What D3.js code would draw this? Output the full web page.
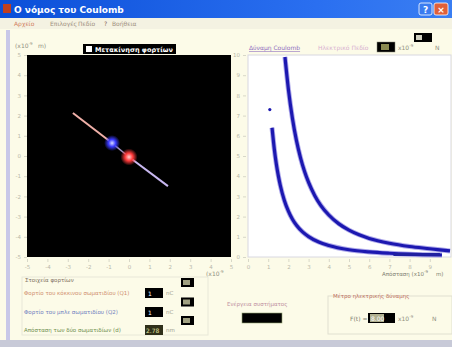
<!DOCTYPE html>
<html><head><meta charset="utf-8">
<script src="https://cdn.jsdelivr.net/npm/d3@7"></script>
<style>body{margin:0;background:#fcfbe8;overflow:hidden}svg{display:block}text{font-family:"DejaVu Sans",sans-serif}</style>
</head><body><svg id="c" width="452" height="347"></svg>
<script>
// ---- data ----
const titleText = "Ο νόμος του Coulomb";
const menuItems = ["Αρχείο", "Επιλογές", "Πεδίο", "?", "Βοήθεια"];
const axisTicks = [-5,-4,-3,-2,-1,0,1,2,3,4,5];
const plotXTicks = [0,1,2,3,4,5,6,7,8,9];
const plotYTicks = [0,1,2,3,4,5,6,7,8,9,10];
// particle positions (x10^-9 m) in the left panel
const blueCharge = {x:-0.83, y:0.64};
const redCharge = {x:0.0, y:-0.05};
// force vectors: [start, end]
const vecBlue = [{x:-0.83,y:0.64},{x:-2.75,y:2.13}];
const vecRed = [{x:0.0,y:-0.05},{x:1.91,y:-1.49}];
// force vs distance curves (distance, force)
const upperR = [1.83,2.0,2.2,2.4,2.6,2.8,3.0,3.3,3.6,4.0,4.5,5.0,5.5,6.0,7.0,8.0,9.0,10.0];
const upperF = [9.9,8.3,6.86,5.76,4.91,4.23,3.69,3.05,2.56,2.08,1.64,1.33,1.10,0.92,0.68,0.52,0.41,0.30];
const lowerR = [1.19,1.3,1.4,1.5,1.6,1.8,2.0,2.2,2.4,2.7,3.0,3.5,4.0,5.0,6.0,7.0,8.0,9.6];
const lowerF = [6.4,5.36,4.62,4.03,3.54,2.80,2.27,1.87,1.57,1.24,1.01,0.74,0.57,0.36,0.25,0.185,0.14,0.10];
const strayPoint = {r:1.08, f:7.3};
const q1 = "1", q2 = "1", dist = "2.78", forceVal = "8.00";

const svg = d3.select("#c");
const defs = svg.append("defs");
const tg = defs.append("linearGradient").attr("id","tb").attr("x1",0).attr("x2",1);
tg.append("stop").attr("offset","0").attr("stop-color","#0b4fd8");
tg.append("stop").attr("offset","0.7").attr("stop-color","#2a6ff0");
tg.append("stop").attr("offset","1").attr("stop-color","#3a7ef2");
function glow(id, c0, c1){
  const g = defs.append("radialGradient").attr("id",id);
  g.append("stop").attr("offset","0").attr("stop-color",c0);
  g.append("stop").attr("offset","0.45").attr("stop-color",c1);
  g.append("stop").attr("offset","1").attr("stop-color",c1).attr("stop-opacity",0);
}
glow("gb","#d8dcff","#3a3aff");
glow("gr","#ffd0d0","#ff3a3a");

// window chrome
svg.append("rect").attr("x",0).attr("y",0).attr("width",452).attr("height",347).attr("fill","#fcfbe8");
svg.append("rect").attr("x",0).attr("y",0).attr("width",452).attr("height",18).attr("fill","url(#tb)");
svg.append("rect").attr("x",3).attr("y",4).attr("width",8).attr("height",9).attr("fill","#c04020");
svg.append("text").attr("x",14).attr("y",13).attr("fill","#fff").attr("font-size",9).attr("font-weight","bold").text(titleText);
svg.append("rect").attr("x",419).attr("y",3).attr("width",13).attr("height",12).attr("fill","#3b7cf0").attr("stroke","#fff").attr("stroke-width",0.8).attr("rx",2);
svg.append("text").attr("x",425.5).attr("y",13).attr("text-anchor","middle").attr("fill","#fff").attr("font-size",9).attr("font-weight","bold").text("?");
svg.append("rect").attr("x",434).attr("y",3).attr("width",14).attr("height",12).attr("fill","#e0603a").attr("stroke","#fff").attr("stroke-width",0.8).attr("rx",2);
svg.append("text").attr("x",441).attr("y",13).attr("text-anchor","middle").attr("fill","#fff").attr("font-size",9).attr("font-weight","bold").text("×");
svg.append("rect").attr("x",0).attr("y",18).attr("width",452).attr("height",11).attr("fill","#f4f2e2");
const menuX = [14,50,78,104,112];
const menuCol = ["#d08060","#a09080","#a09080","#806050","#a09080"];
menuItems.forEach((m,i)=>svg.append("text").attr("x",menuX[i]).attr("y",26).attr("font-size",6).attr("fill",menuCol[i]).text(m));
svg.append("rect").attr("x",6).attr("y",30).attr("width",4).attr("height",312).attr("fill","#c8c8e8");
svg.append("rect").attr("x",0).attr("y",340).attr("width",452).attr("height",7).attr("fill","#c8cad8");

// left panel
const lx = d3.scaleLinear().domain([-5,5]).range([27,231]);
const ly = d3.scaleLinear().domain([-5,5]).range([257,55]);
svg.append("rect").attr("x",27).attr("y",55).attr("width",204).attr("height",202).attr("fill","#000");
const axL = svg.append("g").attr("transform","translate(27,0)").call(d3.axisLeft(ly).tickValues(axisTicks).tickSize(3).tickFormat(d=>d));
const axB = svg.append("g").attr("transform","translate(0,259)").call(d3.axisBottom(lx).tickValues(axisTicks).tickSize(3).tickFormat(d=>d));
[axL,axB].forEach(a=>{a.select(".domain").remove();a.selectAll("line").attr("stroke","#d8d8c8");a.selectAll("text").attr("fill","#b8b8a8").attr("font-size",5.5);});
svg.append("text").attr("x",15).attr("y",48).attr("font-size",6).attr("fill","#909080").text("(x10").append("tspan").attr("dy",-3).attr("font-size",4).text("-9");
svg.append("text").attr("x",38).attr("y",48).attr("font-size",6).attr("fill","#909080").text("m)");
svg.append("text").attr("x",206).attr("y",276).attr("font-size",6).attr("fill","#909080").text("(x10").append("tspan").attr("dy",-3).attr("font-size",4).text("-9");
// checkbox label
svg.append("rect").attr("x",83).attr("y",44).attr("width",93).attr("height",10).attr("fill","#000");
svg.append("rect").attr("x",86).attr("y",46).attr("width",6).attr("height",6).attr("fill","#fff");
svg.append("text").attr("x",95).attr("y",52).attr("font-size",6.5).attr("font-weight","bold").attr("fill","#fff").text("Μετακίνηση φορτίων");
// vectors
svg.append("line").attr("x1",lx(vecBlue[0].x)).attr("y1",ly(vecBlue[0].y)).attr("x2",lx(vecBlue[1].x)).attr("y2",ly(vecBlue[1].y)).attr("stroke","#f0b0a8").attr("stroke-width",2);
svg.append("line").attr("x1",lx(vecRed[0].x)).attr("y1",ly(vecRed[0].y)).attr("x2",lx(vecRed[1].x)).attr("y2",ly(vecRed[1].y)).attr("stroke","#c8b8f0").attr("stroke-width",2);
svg.append("line").attr("x1",lx(blueCharge.x)).attr("y1",ly(blueCharge.y)).attr("x2",lx(redCharge.x)).attr("y2",ly(redCharge.y)).attr("stroke","#a090c0").attr("stroke-width",1.5);
svg.append("circle").attr("cx",lx(blueCharge.x)).attr("cy",ly(blueCharge.y)).attr("r",8).attr("fill","url(#gb)");
svg.append("circle").attr("cx",lx(redCharge.x)).attr("cy",ly(redCharge.y)).attr("r",8.5).attr("fill","url(#gr)");

// right plot
const px = d3.scaleLinear().domain([0,10]).range([248,450]);
const py = d3.scaleLinear().domain([0,10]).range([257,55]);
svg.append("rect").attr("x",248).attr("y",55).attr("width",203).attr("height",202).attr("fill","#fff").attr("stroke","#d8d8e0");
const axPL = svg.append("g").attr("transform","translate(246,0)").call(d3.axisLeft(py).tickValues(plotYTicks).tickSize(3).tickFormat(d=>d));
const axPB = svg.append("g").attr("transform","translate(0,259)").call(d3.axisBottom(px).tickValues(plotXTicks).tickSize(3).tickFormat(d=>d));
[axPL,axPB].forEach(a=>{a.select(".domain").remove();a.selectAll("line").attr("stroke","#d8d8c8");a.selectAll("text").attr("fill","#b8b8a8").attr("font-size",5.5);});
svg.append("text").attr("x",382).attr("y",276).attr("font-size",5.5).attr("fill","#808070").text("Απόσταση (x10").append("tspan").attr("dy",-3).attr("font-size",4).text("-9");
svg.append("text").attr("x",436).attr("y",276).attr("font-size",5.5).attr("fill","#808070").text("m)");
// legend row
svg.append("text").attr("x",249).attr("y",50).attr("font-size",6).attr("fill","#9070c0").attr("text-decoration","underline").text("Δύναμη Coulomb");
svg.append("text").attr("x",318).attr("y",50).attr("font-size",6).attr("fill","#d8b0d0").text("Ηλεκτρικό Πεδίο");
svg.append("rect").attr("x",377).attr("y",42).attr("width",18).attr("height",10).attr("fill","#000").attr("stroke","#887").attr("stroke-width",0.5);
svg.append("rect").attr("x",381).attr("y",44).attr("width",8).attr("height",6).attr("fill","#8a8a50");
svg.append("text").attr("x",398).attr("y",50).attr("font-size",6).attr("fill","#909080").text("x10").append("tspan").attr("dy",-3).attr("font-size",4).text("-9");
svg.append("text").attr("x",435).attr("y",50).attr("font-size",6).attr("fill","#909080").text("N");
svg.append("rect").attr("x",414).attr("y",33).attr("width",18).attr("height",9).attr("fill","#000");
svg.append("rect").attr("x",416).attr("y",35).attr("width",6).attr("height",5).attr("fill","#d0d0c0");

const line = d3.line().x(d=>px(d[0])).y(d=>py(d[1])).curve(d3.curveMonotoneX);
const up = upperR.map((r,i)=>[r,upperF[i]]);
const lo = lowerR.map((r,i)=>[r,lowerF[i]]);
[up,lo].forEach(d=>{
  svg.append("path").datum(d).attr("d",line).attr("fill","none").attr("stroke","#6a60d8").attr("stroke-width",5).attr("stroke-opacity",0.55);
  svg.append("path").datum(d).attr("d",line).attr("fill","none").attr("stroke","#1c18b0").attr("stroke-width",3.2);
});
svg.append("circle").attr("cx",px(strayPoint.r)).attr("cy",py(strayPoint.f)).attr("r",1.6).attr("fill","#1c18b0");
svg.append("rect").attr("x",px(7.2)).attr("y",py(0.2)).attr("width",px(9.5)-px(7.2)).attr("height",3).attr("fill","#2020a0");

// bottom controls
svg.append("rect").attr("x",22).attr("y",277).attr("width",186).attr("height",58).attr("fill","none").attr("stroke","#e8e8d8");
svg.append("text").attr("x",25).attr("y",282).attr("font-size",5.5).attr("fill","#807060").text("Στοιχεία φορτίων");
const rows = [
  {t:"Φορτίο του κόκκινου σωματιδίου (Q1)", c:"#d09070", v:q1, y:293},
  {t:"Φορτίο του μπλε σωματιδίου (Q2)", c:"#7080c0", v:q2, y:312},
  {t:"Απόσταση των δύο σωματιδίων (d)", c:"#709050", v:dist, y:330}
];
rows.forEach((r,i)=>{
  svg.append("text").attr("x",24).attr("y",r.y+2).attr("font-size",5.5).attr("fill",r.c).text(r.t);
  svg.append("rect").attr("x",145).attr("y",r.y-5).attr("width",18).attr("height",10).attr("fill",i===2?"#30301a":"#000");
  svg.append("text").attr("x",i===2?146:148).attr("y",r.y+2.5).attr("font-size",6).attr("fill",i===2?"#e0e0a0":"#fff").text(r.v);
  svg.append("text").attr("x",166).attr("y",r.y+2).attr("font-size",5.5).attr("fill","#a0a090").text(i===2?"nm":"nC");
  svg.append("rect").attr("x",181).attr("y",r.y-15+i*0.5).attr("width",13).attr("height",9).attr("fill","#000");
  svg.append("rect").attr("x",183).attr("y",r.y-13+i*0.5).attr("width",7).attr("height",5).attr("fill","#a0a080");
});
svg.append("text").attr("x",227).attr("y",306).attr("font-size",5.5).attr("fill","#c090a0").text("Ενέργεια συστήματος");
svg.append("rect").attr("x",242).attr("y",313).attr("width",40).attr("height",10).attr("fill","#000").attr("stroke","#90a070").attr("stroke-width",0.6);
svg.append("rect").attr("x",328).attr("y",296).attr("width",124).attr("height",38).attr("fill","none").attr("stroke","#e0e0d0");
svg.append("text").attr("x",333).attr("y",298).attr("font-size",5.5).attr("fill","#c07060").text("Μέτρο ηλεκτρικής δύναμης");
svg.append("text").attr("x",350).attr("y",321).attr("font-size",6).attr("fill","#808070").text("F(t) =");
svg.append("rect").attr("x",368).attr("y",313).attr("width",27).attr("height",10).attr("fill","#000");
svg.append("rect").attr("x",370).attr("y",314).attr("width",14).attr("height",8).attr("fill","#b0b090");
svg.append("text").attr("x",371).attr("y",321).attr("font-size",6).attr("fill","#fff").text(forceVal);
svg.append("text").attr("x",398).attr("y",321).attr("font-size",6).attr("fill","#909080").text("x10").append("tspan").attr("dy",-3).attr("font-size",4).text("-9");
svg.append("text").attr("x",432).attr("y",321).attr("font-size",6).attr("fill","#909080").text("N");
</script></body></html>
